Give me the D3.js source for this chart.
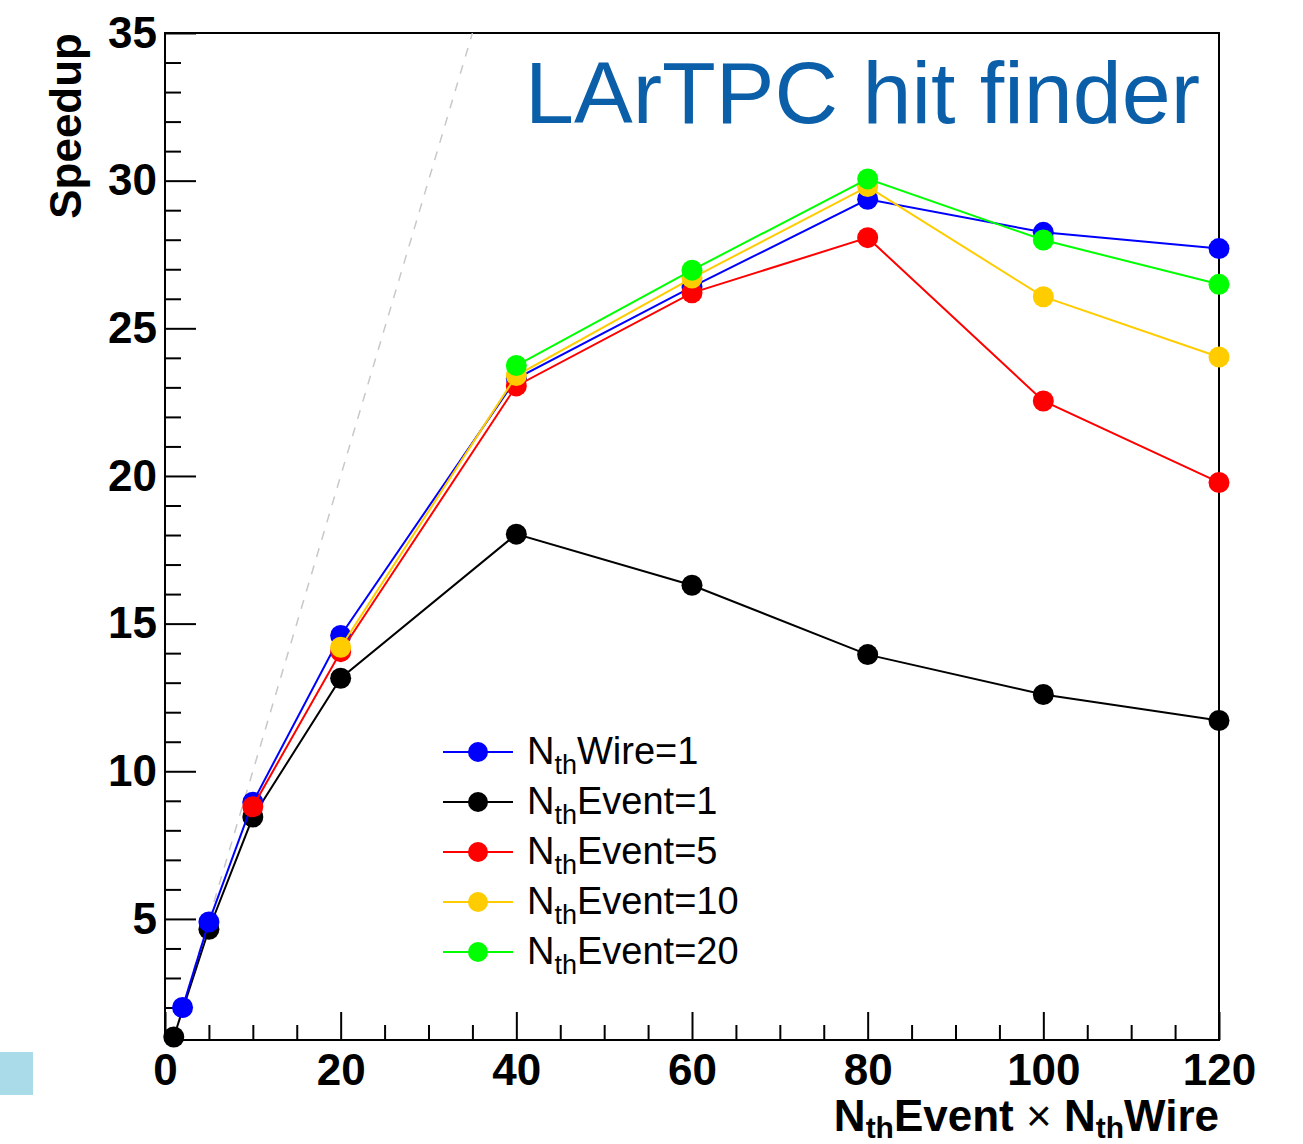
<!DOCTYPE html>
<html>
<head>
<meta charset="utf-8">
<script src="https://cdn.jsdelivr.net/npm/d3@7"></script>
<style>
  body { margin: 0; background: #fff; }
  svg { display: block; font-family: 'Liberation Sans', Arial, Helvetica, sans-serif; }
</style>
</head>
<body>
<div id="chart"></div>
<script>
// series data
const seriesNames = ['Wire=1', 'Event=1', 'Event=5', 'Event=10', 'Event=20'];
const seriesColors = ['#0000ff', '#000000', '#ff0000', '#ffcc00', '#00ff00'];

const wire1X = [2, 5, 10, 20, 40, 60, 80, 100, 120];
const wire1Y = [2.0, 4.9, 8.95, 14.6, 23.3, 26.4, 29.37, 28.25, 27.7];

const event1X = [1, 5, 10, 20, 40, 60, 80, 100, 120];
const event1Y = [1.0, 4.65, 8.45, 13.15, 18.03, 16.3, 13.95, 12.6, 11.72];

const event5X = [10, 20, 40, 60, 80, 100, 120];
const event5Y = [8.8, 14.05, 23.05, 26.2, 28.07, 22.54, 19.78];

const event10X = [20, 40, 60, 80, 100, 120];
const event10Y = [14.2, 23.4, 26.7, 29.8, 26.07, 24.03];

const event20X = [40, 60, 80, 100, 120];
const event20Y = [23.74, 26.97, 30.06, 27.99, 26.49];

const xMajorTicks = [0, 20, 40, 60, 80, 100, 120];
const yMajorTicks = [5, 10, 15, 20, 25, 30, 35];

const idealLine = [0.9, 35]; // speedup = N, drawn as dashed grey

function drawChart() {
    const width = 1303;
    const height = 1144;
    const left = 165, right = 1219, top = 33, bottom = 1040;

    const svg = d3.select('#chart')
        .append('svg')
        .attr('width', width)
        .attr('height', height);

    const x = d3.scaleLinear().domain([0, 120]).range([left, right]);
    const y = d3.scaleLinear().domain([0.9, 35]).range([bottom, top]);

    // little light-blue square from the slide
    svg.append('rect')
        .attr('x', 0).attr('y', 1052)
        .attr('width', 33).attr('height', 43)
        .attr('fill', '#a9dbe9');

    svg.append('defs').append('clipPath')
        .attr('id', 'plotClip')
        .append('rect')
        .attr('x', left).attr('y', top)
        .attr('width', right - left).attr('height', bottom - top);

    // minor ticks
    const xMinor = d3.range(0, 121, 5).filter(v => v % 20 !== 0);
    const yMinor = d3.range(1, 35, 1).filter(v => v % 5 !== 0);

    svg.append('g')
        .attr('transform', `translate(0,${bottom})`)
        .call(d3.axisBottom(x).tickValues(xMinor).tickSize(-15).tickFormat(''))
        .call(g => g.select('.domain').remove())
        .call(g => g.selectAll('line').attr('stroke', '#000').attr('stroke-width', 2));

    svg.append('g')
        .attr('transform', `translate(${left},0)`)
        .call(d3.axisLeft(y).tickValues(yMinor).tickSize(-16).tickFormat(''))
        .call(g => g.select('.domain').remove())
        .call(g => g.selectAll('line').attr('stroke', '#000').attr('stroke-width', 2));

    // major ticks + labels
    svg.append('g')
        .attr('transform', `translate(0,${bottom})`)
        .call(d3.axisBottom(x).tickValues(xMajorTicks).tickSize(-28).tickPadding(14).tickFormat(d3.format('d')))
        .call(g => g.select('.domain').remove())
        .call(g => g.selectAll('line').attr('stroke', '#000').attr('stroke-width', 2))
        .call(g => g.selectAll('text')
            .attr('fill', '#000')
            .attr('font-size', 44)
            .attr('font-weight', 'bold')
            .attr('font-family', "'Liberation Sans', Arial, sans-serif"));

    svg.append('g')
        .attr('transform', `translate(${left},0)`)
        .call(d3.axisLeft(y).tickValues(yMajorTicks).tickSize(-31).tickPadding(8).tickFormat(d3.format('d')))
        .call(g => g.select('.domain').remove())
        .call(g => g.selectAll('line').attr('stroke', '#000').attr('stroke-width', 2))
        .call(g => g.selectAll('text')
            .attr('fill', '#000')
            .attr('font-size', 44)
            .attr('font-weight', 'bold')
            .attr('font-family', "'Liberation Sans', Arial, sans-serif"));

    // frame
    svg.append('rect')
        .attr('x', left).attr('y', top)
        .attr('width', right - left).attr('height', bottom - top)
        .attr('fill', 'none')
        .attr('stroke', '#000')
        .attr('stroke-width', 2);

    const plot = svg.append('g').attr('clip-path', 'url(#plotClip)');

    // ideal speedup line
    plot.append('line')
        .attr('x1', x(idealLine[0])).attr('y1', y(idealLine[0]))
        .attr('x2', x(idealLine[1])).attr('y2', y(idealLine[1]))
        .attr('stroke', '#c8c8c8')
        .attr('stroke-width', 1.5)
        .attr('stroke-dasharray', '9,9');

    const allX = [wire1X, event1X, event5X, event10X, event20X];
    const allY = [wire1Y, event1Y, event5Y, event10Y, event20Y];
    const series = seriesNames.map((name, i) => ({
        name: name,
        color: seriesColors[i],
        points: allX[i].map((v, j) => ({ x: v, y: allY[i][j] }))
    }));

    // draw order: black first, then blue, red, yellow, green
    const drawOrder = [1, 0, 2, 3, 4];
    const line = d3.line().x(d => x(d.x)).y(d => y(d.y));

    drawOrder.forEach(i => {
        const s = series[i];
        const g = svg.append('g');
        g.append('path')
            .datum(s.points)
            .attr('d', line)
            .attr('fill', 'none')
            .attr('stroke', s.color)
            .attr('stroke-width', 2);
        g.selectAll('circle')
            .data(s.points)
            .enter().append('circle')
            .attr('cx', d => x(d.x))
            .attr('cy', d => y(d.y))
            .attr('r', 10.5)
            .attr('fill', s.color);
    });

    // legend
    const legend = svg.append('g');
    const legendY0 = 752, legendStep = 50;
    series.forEach((s, i) => {
        const ly = legendY0 + i * legendStep;
        legend.append('line')
            .attr('x1', 443).attr('x2', 513)
            .attr('y1', ly).attr('y2', ly)
            .attr('stroke', s.color)
            .attr('stroke-width', 2);
        legend.append('circle')
            .attr('cx', 478).attr('cy', ly)
            .attr('r', 10)
            .attr('fill', s.color);
        const t = legend.append('text')
            .attr('x', 527)
            .attr('y', ly + 12)
            .attr('font-size', 38)
            .attr('fill', '#000');
        t.append('tspan').text('N');
        t.append('tspan').attr('font-size', 27).attr('dy', 10).text('th');
        t.append('tspan').attr('dy', -10).text(s.name);
    });

    // title
    svg.append('text')
        .attr('x', 1200)
        .attr('y', 123)
        .attr('text-anchor', 'end')
        .attr('font-size', 88)
        .attr('fill', '#0b5ea8')
        .text('LArTPC hit finder');

    // axis titles
    const xt = svg.append('text')
        .attr('x', right)
        .attr('y', 1131)
        .attr('text-anchor', 'end')
        .attr('font-size', 44)
        .attr('font-weight', 'bold')
        .attr('fill', '#000');
    xt.append('tspan').text('N');
    xt.append('tspan').attr('font-size', 30).attr('dy', 7).text('th');
    xt.append('tspan').attr('dy', -7).text('Event ');
    xt.append('tspan').attr('font-weight', 'normal').text('\u00d7');
    xt.append('tspan').text(' N');
    xt.append('tspan').attr('font-size', 30).attr('dy', 7).text('th');
    xt.append('tspan').attr('dy', -7).text('Wire');

    svg.append('text')
        .attr('transform', `translate(81,${top}) rotate(-90)`)
        .attr('text-anchor', 'end')
        .attr('font-size', 44)
        .attr('font-weight', 'bold')
        .attr('fill', '#000')
        .text('Speedup');
}

drawChart();
</script>
</body>
</html>
